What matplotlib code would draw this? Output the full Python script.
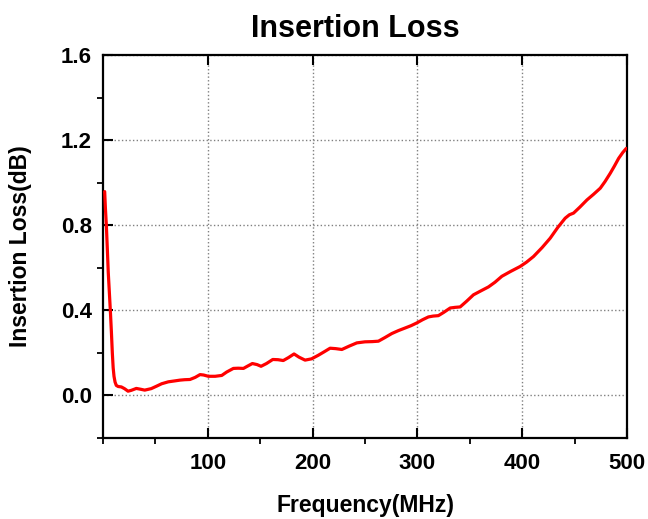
import matplotlib
matplotlib.use("Agg")
import matplotlib.pyplot as plt
from matplotlib.ticker import MultipleLocator

plt.rcParams['font.family'] = ['Liberation Sans', 'DejaVu Sans']
plt.rcParams['font.weight'] = 'bold'

freq = [1.6, 2.3, 3.2, 4.2, 5, 6, 7, 8, 8.9, 9.7, 10.5, 11.5, 12.7, 14.5, 17.5, 20.5,
        23.9, 27, 31.8, 36, 39.8,
        46, 51.3, 56, 62.3, 68, 73.5, 78, 83, 88, 92.6, 96, 100.5, 107, 113.3, 118, 124.4,
        129, 134, 138, 142.5, 147, 150.8, 156, 162, 167, 172, 177, 182.3, 187, 192.8,
        199, 205.5, 211, 216.7, 222, 227.9, 235, 242.2, 250, 257, 262.8, 269, 275.6,
        282, 288.3, 294, 299.5, 305, 310.5, 315, 320, 325, 331.3, 336, 340.8, 347,
        353.5, 360, 367.8, 374, 380.6, 389, 398, 404, 410.8, 419, 426.7, 434, 441,
        445, 449, 455, 461.8, 468, 474.5, 479, 484, 488, 492, 496, 499.3]
loss = [0.958, 0.88, 0.80, 0.68, 0.58, 0.49, 0.40, 0.30, 0.20, 0.13, 0.09, 0.063, 0.047,
        0.042, 0.040, 0.032, 0.020, 0.024, 0.033, 0.029, 0.025,
        0.032, 0.044, 0.055, 0.064, 0.068, 0.072, 0.074, 0.075,
        0.085, 0.098, 0.096, 0.090, 0.090, 0.094, 0.110, 0.127, 0.128, 0.127, 0.138, 0.150,
        0.145, 0.137, 0.150, 0.169, 0.168, 0.164, 0.178, 0.195, 0.180, 0.166, 0.172, 0.189,
        0.205, 0.222, 0.220, 0.216, 0.232, 0.247, 0.252, 0.253, 0.255, 0.272, 0.291,
        0.305, 0.317, 0.328, 0.341, 0.356, 0.369, 0.373, 0.375, 0.390, 0.411, 0.414, 0.416,
        0.443, 0.473, 0.490, 0.510, 0.532, 0.560, 0.583, 0.606, 0.626, 0.653, 0.695, 0.739,
        0.790, 0.833, 0.849, 0.857, 0.885, 0.919, 0.945, 0.974, 1.005, 1.044, 1.078,
        1.114, 1.142, 1.161]

xtick_vals = [100, 200, 300, 400, 500]
xtick_labels = ['100', '200', '300', '400', '500']
ytick_vals = [0.0, 0.4, 0.8, 1.2, 1.6]
ytick_labels = ['0.0', '0.4', '0.8', '1.2', '1.6']

fig = plt.figure(figsize=(6.48, 5.19), dpi=100)
ax = fig.add_axes([103/648, 1-438/519, (627-103)/648, (438-55)/519])

ax.plot(freq, loss, color='#ff0000', linewidth=2.3, solid_joinstyle='round',
        solid_capstyle='round', zorder=3)

ax.set_xlim(0, 500)
ax.set_ylim(-0.2, 1.6)
ax.xaxis.set_minor_locator(MultipleLocator(50))
ax.yaxis.set_minor_locator(MultipleLocator(0.2))

ax.set_xticks(xtick_vals)
ax.set_xticklabels(xtick_labels)
ax.set_yticks(ytick_vals)
ax.set_yticklabels(ytick_labels)

ax.grid(True, which='major', linestyle=':', color='#808080', linewidth=1.0)

for s in ax.spines.values():
    s.set_linewidth(1.6)
    s.set_color('black')

ax.tick_params(axis='x', which='major', direction='out', length=7, width=1.5,
               labelsize=16, pad=11)
ax.tick_params(axis='y', which='major', direction='out', length=7, width=1.5,
               labelsize=16, pad=8)
ax.tick_params(axis='both', which='minor', direction='out', length=4, width=1.3)
ax.tick_params(top=True, which='major', direction='in')
for t in ax.get_xticklabels() + ax.get_yticklabels():
    t.set_fontweight('bold')

ax.set_xlabel('Frequency(MHz)', fontsize=16.5, fontweight='bold', labelpad=14)
ax.set_ylabel('Insertion Loss(dB)', fontsize=16.5, fontweight='bold', labelpad=21)
ax.set_title('Insertion Loss', fontsize=22, fontweight='bold', x=0.481, pad=13)

fig.savefig('out.png', dpi=100)
